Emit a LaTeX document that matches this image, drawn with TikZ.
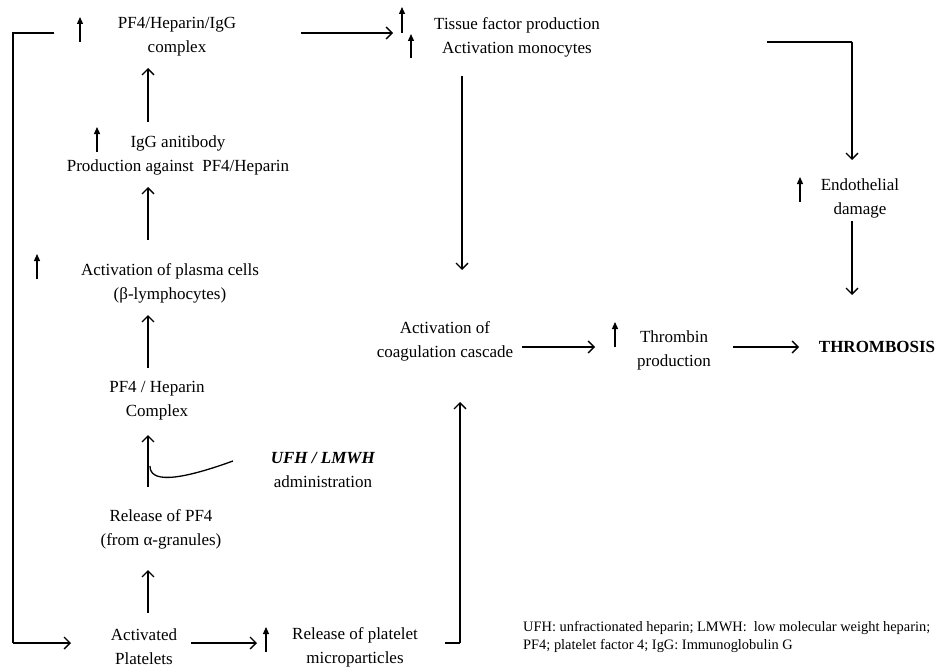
\documentclass[tikz,border=0pt]{standalone}
\usepackage{fontspec}
\setmainfont{Liberation Serif}
\usetikzlibrary{arrows.meta}
\begin{document}
\begin{tikzpicture}[x=1pt,y=-1pt,
  txt/.style={font=\fontsize{17}{24}\selectfont, align=center, inner sep=0pt},
  note/.style={font=\fontsize{14.4}{18.5}\selectfont, align=left, inner sep=0pt, anchor=west},
  flow/.style={line width=1.3pt, -{Straight Barb[length=6pt,width=12pt,line width=1.3pt]}},
  plain/.style={line width=1.3pt},
  upmark/.style={line width=1.3pt, -{Triangle[length=7pt,width=6pt]}}]
\useasboundingbox (0,0) rectangle (937,669);
% nodes
\node[txt] (pfi) at (177,37) {PF4/Heparin/IgG\\complex};
\node[txt] (tf) at (517,37) {Tissue factor production\\Activation monocytes};
\node[txt] (igg) at (178,155) {IgG anitibody\\Production against\ \ PF4/Heparin};
\node[txt] (endo) at (860,198) {Endothelial\\damage};
\node[txt] (plasma) at (170,283) {Activation of plasma cells\\(β-lymphocytes)};
\node[txt] (coag) at (445,341) {Activation of\\coagulation cascade};
\node[txt] (thr) at (674,350) {Thrombin\\production};
\node[txt, font=\fontsize{17}{24}\selectfont\bfseries] (thromb) at (877,347) {THROMBOSIS};
\node[txt] (pfh) at (157,401) {PF4 / Heparin\\Complex};
\node[txt] (ufh) at (323,470) {\textbf{\textit{UFH / LMWH}}\\administration};
\node[txt] (rel) at (161,529) {Release of PF4\\(from α-granules)};
\node[txt] (act) at (144,647) {Activated\\Platelets};
\node[txt] (micro) at (355,647) {Release of platelet\\microparticles};
\node[note] (fn) at (523,637) {UFH: unfractionated heparin; LMWH:\ \ low molecular weight heparin;\\PF4; platelet factor 4; IgG: Immunoglobulin G};
% coordinates
\coordinate (c1) at (54,33);
\coordinate (c2) at (13,33);
\coordinate (c3) at (13,643);
\coordinate (c4) at (71,643);
% main arrows left column
\draw[flow] (148,613) -- (148,570);
\draw[flow] (148,487) -- (148,435);
\draw[flow] (148,368) -- (148,315);
\draw[flow] (148,240) -- (148,187);
\draw[flow] (148,122) -- (148,68);
% heparin curve
\draw[plain] (150,466) .. controls (150,482) and (175,482) .. (233,461);
% feedback loop
\draw[plain] (c1) -- (c2) -- (c3);
\draw[flow] (c3) -- (c4);
% bottom row
\draw[flow] (191,643) -- (257,643);
\draw[plain] (445,643) -- (460,643);
\draw[flow] (460,643) -- (460,402);
% top row
\draw[flow] (301,33) -- (393,33);
\draw[flow] (462,76) -- (462,270);
\draw[plain] (767,42) -- (852,42);
\draw[flow] (852,42) -- (852,160);
\draw[flow] (852,221) -- (852,295);
% middle row
\draw[flow] (522,347) -- (595,347);
\draw[flow] (733,347) -- (799,347);
% increase markers
\draw[upmark] (80,42) -- (80,17);
\draw[upmark] (402,33) -- (402,7);
\draw[upmark] (411,58) -- (411,34);
\draw[upmark] (97,152) -- (97,127);
\draw[upmark] (37,279) -- (37,254);
\draw[upmark] (800,202) -- (800,177);
\draw[upmark] (615,347) -- (615,322);
\draw[upmark] (266,652) -- (266,627);
\end{tikzpicture}
\end{document}
